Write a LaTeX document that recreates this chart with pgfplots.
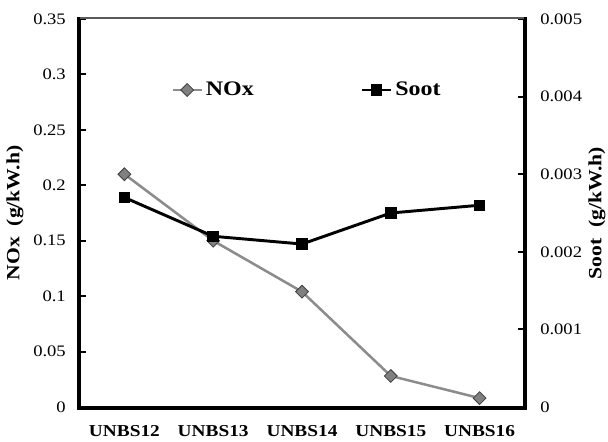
\documentclass[border=0pt]{standalone}
\usepackage{fontspec}
\setmainfont{Liberation Serif}[FakeStretch=1.16]
\usepackage{pgfplots}
\pgfplotsset{compat=1.18}

\definecolor{noxline}{RGB}{140,140,140}
\definecolor{noxfill}{RGB}{128,128,128}
\definecolor{noxedge}{RGB}{60,60,60}
\definecolor{topline}{RGB}{90,90,90}

\pgfplotsset{
  emis/.style={
    width=333pt, height=291pt, scale only axis,
    xmin=-0.5, xmax=4.5,
    clip=false,
    axis line style={black, line width=2.2pt, -},
    tick align=inside,
    major tick length=4.5pt,
    tick style={black, line width=1.4pt},
    scaled y ticks=false,
    /pgf/number format/assume math mode=true,
    tick label style={font=\fontsize{12}{12}\selectfont},
  },
}

\begin{document}
\begin{tikzpicture}
\begin{axis}[
    emis,
    name=ax,
    axis x line*=bottom,
    axis y line*=left,
    ymin=0, ymax=0.35,
    ytick={0,0.05,...,0.35},
    xtick={0,1,2,3,4},
    xticklabels={UNBS12,UNBS13,UNBS14,UNBS15,UNBS16},
    x tick style={draw=none},
    xticklabel style={font=\bfseries\fontsize{12.5}{12.5}\selectfont, anchor=center, yshift=-18pt},
    yticklabel style={/pgf/number format/fixed, /pgf/number format/precision=2,
                      anchor=east, inner sep=0pt, xshift=-10.5pt},
    ylabel={NOx~~(g/kW.h)},
    ylabel style={font=\bfseries\fontsize{14}{14}\selectfont, at={(rel axis cs:0,0.5)},
                  anchor=center, yshift=48.75pt},
    legend columns=2,
    legend style={at={(0.205,0.817)}, anchor=west, draw=none, fill=none,
                  inner sep=0pt, font=\bfseries\fontsize{15.5}{15.5}\selectfont,
                  /tikz/every even column/.append style={column sep=78pt}},
    legend image code/.code={
      \draw[mark repeat=2,mark phase=2] plot coordinates {(0pt,0pt)(11pt,0pt)(22pt,0pt)};
    },
  ]
  \addplot[noxline, line width=1.9pt, mark=square*, mark size=3.4pt,
           mark options={rotate=45, fill=noxfill, draw=noxedge, line width=0.6pt}]
    coordinates {(0,0.210) (1,0.150) (2,0.104) (3,0.028) (4,0.008)};
  \addlegendentry{NOx}
  \addlegendimage{black, line width=2.2pt, mark=square*, mark size=3.2pt}
  \addlegendentry{Soot}
\end{axis}
\begin{axis}[
    emis,
    axis x line=none,
    axis y line*=right,
    xtick=\empty,
    ymin=0, ymax=0.005,
    ytick={0,0.001,...,0.005},
    yticklabel style={/pgf/number format/fixed, /pgf/number format/precision=3,
                      anchor=west, inner sep=0pt, xshift=12pt},
    ylabel={Soot~~(g/kW.h)},
    ylabel style={font=\bfseries\fontsize{14}{14}\selectfont, at={(rel axis cs:1,0.5)},
                  anchor=center, rotate=0, yshift=-54.75pt},
  ]
  \addplot[black, line width=2.2pt, mark=square*, mark size=3.2pt]
    coordinates {(0,0.0027) (1,0.0022) (2,0.0021) (3,0.0025) (4,0.0026)};
\end{axis}
% frame, set just outside the plot area: thin grey top, thick black left/bottom/right
\draw[topline, line width=1.2pt] ([yshift=0.6pt]ax.north west) -- ([yshift=0.6pt]ax.north east);
\draw[black, line width=2.2pt, line join=miter]
  ([xshift=-1.1pt,yshift=1.2pt]ax.north west) -- ([xshift=-1.1pt,yshift=-1.1pt]ax.south west)
  -- ([xshift=1.1pt,yshift=-1.1pt]ax.south east) -- ([xshift=1.1pt,yshift=1.2pt]ax.north east);
% inward ticks: NOx every 0.05 (291pt/7), Soot every 0.001 (291pt/5)
\foreach \k in {1,...,6}
  \draw[black, line width=1.4pt] ([yshift=\k*41.571pt]ax.south west) -- ++(4.5pt,0);
\foreach \k in {1,...,4}
  \draw[black, line width=1.4pt] ([yshift=\k*58.2pt]ax.south east) -- ++(-4.5pt,0);
\pgfresetboundingbox
\path[use as bounding box] (ax.south west) ++(-60pt,-25.5pt) rectangle ([xshift=63pt,yshift=14.25pt]ax.north east);
\end{tikzpicture}
\end{document}
